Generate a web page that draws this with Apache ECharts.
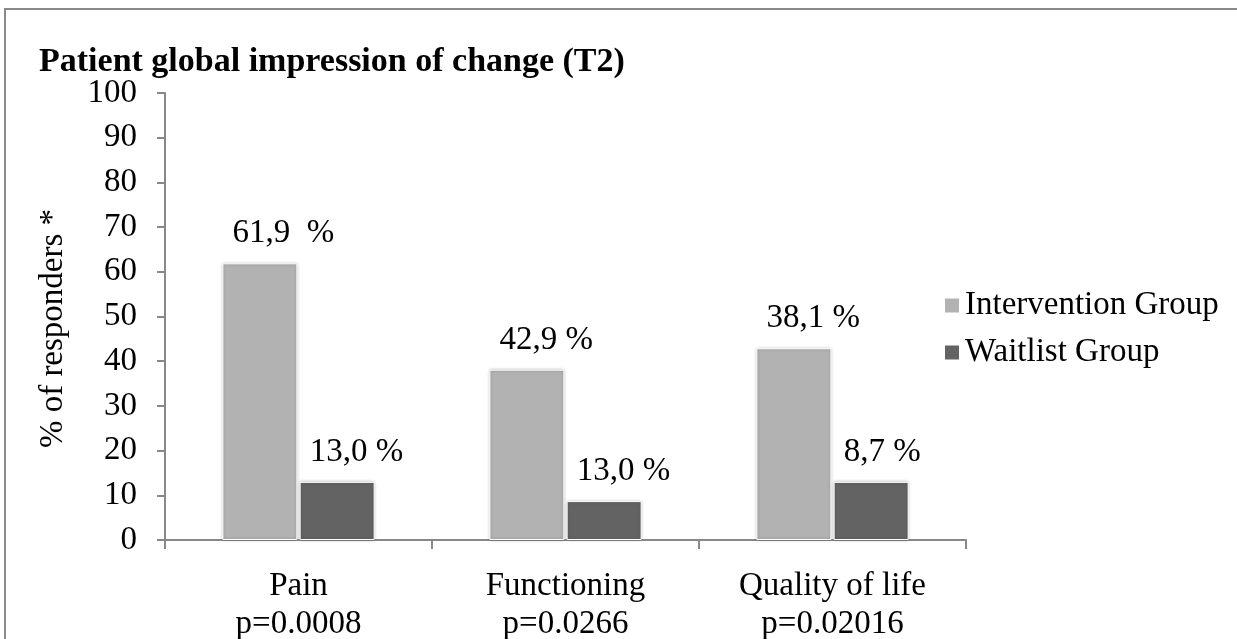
<!DOCTYPE html>
<html>
<head>
<meta charset="utf-8">
<script src="https://cdn.jsdelivr.net/npm/echarts@6/dist/echarts.min.js"></script>
<style>
html,body{margin:0;padding:0;background:#fff;}
#chart{width:1237px;height:639px;}
</style>
</head>
<body>
<div id="chart"></div>
<script>
var categories = ['Pain\np=0.0008', 'Functioning\np=0.0266', 'Quality of life\np=0.02016'];
var seriesNames = ['Intervention Group', 'Waitlist Group'];
var interventionValues = [61.9, 38.1, 42.9];
var waitlistValues = [13.0, 8.7, 13.0];
var interventionLabels = ['61,9  %', '42,9 %', '38,1 %'];
var waitlistLabels = ['13,0 %', '13,0 %', '8,7 %'];
var yTicks = [0, 10, 20, 30, 40, 50, 60, 70, 80, 90, 100];

var FONT = "'Liberation Serif', 'Times New Roman', serif";
var FS = 33;
var chart = echarts.init(document.getElementById('chart'));

function labelCfg(texts) {
  return {
    show: true,
    position: [10, -13],
    align: 'left',
    verticalAlign: 'bottom',
    fontFamily: FONT,
    fontSize: FS,
    color: '#000',
    formatter: function (p) { return texts[p.dataIndex]; }
  };
}

chart.setOption({
  animation: false,
  backgroundColor: '#fff',
  graphic: [{
    type: 'rect',
    shape: { x: 5, y: 9, width: 1250, height: 660 },
    style: { fill: 'none', stroke: '#8a8a8a', lineWidth: 2 },
    silent: true
  }],
  title: {
    text: 'Patient global impression of change (T2)',
    left: 34,
    top: 40,
    textStyle: { fontFamily: FONT, fontSize: 34, fontWeight: 'bold', color: '#000' }
  },
  legend: {
    orient: 'vertical',
    left: 938,
    top: 284,
    itemWidth: 16,
    itemHeight: 16,
    itemGap: 14,
    icon: 'rect',
    data: seriesNames,
    textStyle: { fontFamily: FONT, fontSize: FS, color: '#000' }
  },
  grid: { left: 165, right: 271, top: 93, bottom: 99, containLabel: false, outerBoundsMode: 'none' },
  xAxis: {
    type: 'category',
    data: categories,
    axisLine: { lineStyle: { color: '#888', width: 2 } },
    axisTick: { show: true, length: 9, lineStyle: { color: '#888', width: 2 } },
    axisLabel: { fontFamily: FONT, fontSize: FS, color: '#000', margin: 27, lineHeight: 38 }
  },
  yAxis: {
    type: 'value',
    min: yTicks[0],
    max: yTicks[yTicks.length - 1],
    interval: 10,
    name: '% of responders *',
    nameLocation: 'middle',
    nameGap: 95,
    nameTextStyle: { fontFamily: FONT, fontSize: FS, color: '#000', padding: [0, 24, 0, 0] },
    axisLine: { show: true, lineStyle: { color: '#888', width: 2 } },
    axisTick: { show: true, length: 8, lineStyle: { color: '#888', width: 2 } },
    splitLine: { show: false },
    axisLabel: { fontFamily: FONT, fontSize: FS, color: '#000', margin: 28 }
  },
  series: [{
    name: seriesNames[0],
    type: 'bar',
    data: interventionValues,
    barWidth: 75,
    barGap: '3%',
    itemStyle: { color: '#b2b2b2', borderColor: '#fff', borderWidth: 1, shadowBlur: 3, shadowColor: 'rgba(0,0,0,0.25)' },
    label: labelCfg(interventionLabels)
  }, {
    name: seriesNames[1],
    type: 'bar',
    data: waitlistValues,
    barWidth: 75,
    itemStyle: { color: '#636363', borderColor: '#fff', borderWidth: 1, shadowBlur: 3, shadowColor: 'rgba(0,0,0,0.25)' },
    label: labelCfg(waitlistLabels)
  }]
});
</script>
</body>
</html>
